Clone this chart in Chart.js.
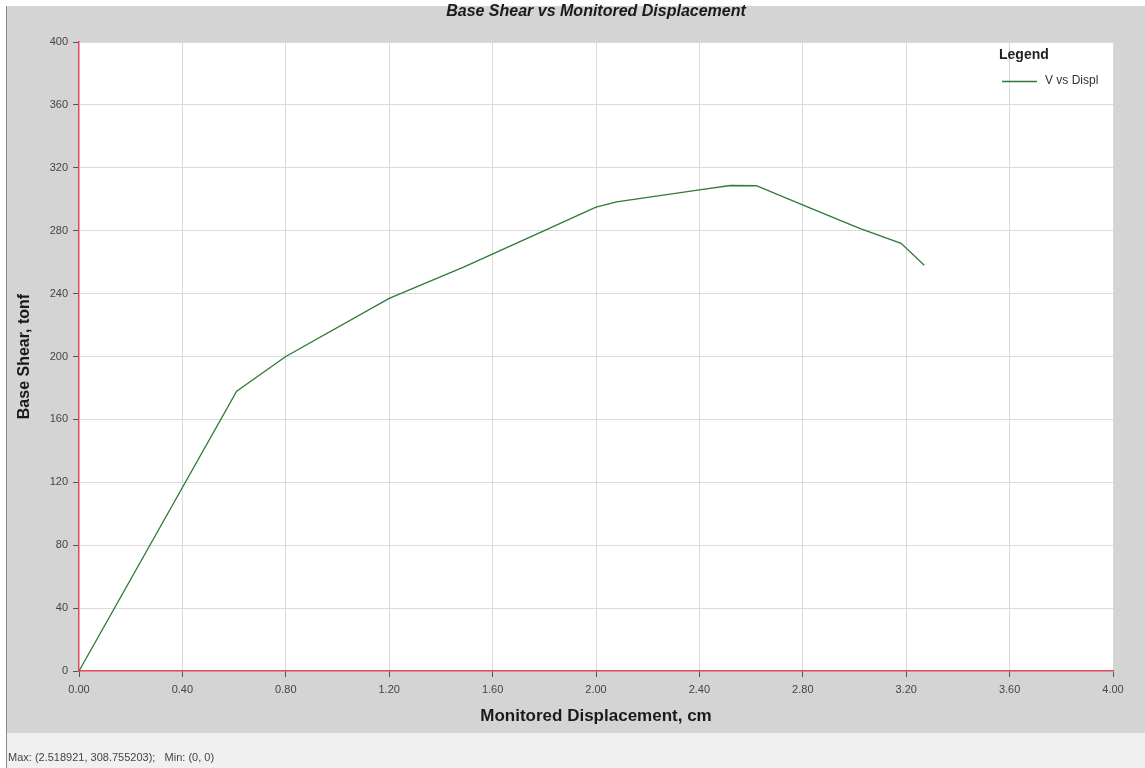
<!DOCTYPE html>
<html><head><meta charset="utf-8">
<script src="https://cdn.jsdelivr.net/npm/chart.js@4/dist/chart.umd.min.js"></script>
<style>html,body{margin:0;padding:0;background:#fff;overflow:hidden}#wrap{width:1145px;height:768px;position:relative}canvas{display:block}</style>
</head><body><div id="wrap"><canvas id="c" width="1145" height="768"></canvas></div>
<script>
// ---- data ----
const displacementCm = [0, 0.61, 0.80, 1.20, 1.49, 1.80, 2.00, 2.08, 2.40, 2.518921, 2.62, 2.82, 3.02, 3.18, 3.27];
const baseShearTonf  = [0, 178, 200, 237, 257, 280, 295, 298.4, 306, 308.755203, 308.6, 295, 281.5, 272, 258];
const xTickValues = [0, 0.4, 0.8, 1.2, 1.6, 2.0, 2.4, 2.8, 3.2, 3.6, 4.0];
const yTickValues = [0, 40, 80, 120, 160, 200, 240, 280, 320, 360, 400];
const seriesLabel = 'V vs Displ';
const chartTitle = 'Base Shear vs Monitored Displacement';
const xTitle = 'Monitored Displacement, cm';
const yTitle = 'Base Shear, tonf';

const FONT = "'Liberation Sans', Arial, sans-serif";
const LINE_COLOR = '#2f7a34';
const GRID = '#dadada';

const points = displacementCm.map((x, i) => ({x, y: baseShearTonf[i]}));
const gridColor = c => (c.tick && c.tick.value === 0) ? 'rgba(0,0,0,0)' : GRID;

const framePlugin = {
  id: 'frame',
  beforeDraw(chart) {
    const {ctx, chartArea: a} = chart;
    ctx.save();
    ctx.fillStyle = '#ffffff';
    ctx.fillRect(0, 0, 1145, 768);
    ctx.fillStyle = '#d4d4d4';
    ctx.fillRect(7, 6, 1138, 727);
    ctx.fillStyle = '#f0f0f0';
    ctx.fillRect(7, 733, 1138, 35);
    ctx.fillStyle = '#8a8a8a';
    ctx.fillRect(6, 6, 1, 762);
    ctx.fillStyle = '#ffffff';
    ctx.fillRect(a.left, a.top, a.right - a.left, a.bottom - a.top);
    ctx.restore();
  },
  afterDraw(chart) {
    const {ctx, chartArea: a} = chart;
    ctx.save();
    // title
    ctx.fillStyle = '#1a1a1a';
    ctx.font = `italic bold 16px ${FONT}`;
    ctx.textAlign = 'center';
    ctx.textBaseline = 'middle';
    ctx.fillText(chartTitle, (a.left + a.right) / 2, 12);
    // legend
    ctx.textAlign = 'left';
    ctx.font = `bold 14px ${FONT}`;
    ctx.fillStyle = '#222';
    ctx.fillText('Legend', 999, 55);
    ctx.strokeStyle = LINE_COLOR;
    ctx.lineWidth = 1.3;
    ctx.beginPath();
    ctx.moveTo(1002, 81.5);
    ctx.lineTo(1037, 81.5);
    ctx.stroke();
    ctx.font = `12px ${FONT}`;
    ctx.fillStyle = '#333';
    ctx.fillText(chart.data.datasets[0].label, 1045, 81);
    // status bar
    const ds = chart.data.datasets[0].data;
    let mx = ds[0], mn = ds[0];
    ds.forEach(p => { if (p.y > mx.y) mx = p; if (p.y < mn.y) mn = p; });
    ctx.font = `11px ${FONT}`;
    ctx.fillStyle = '#444';
    ctx.fillText(`Max: (${mx.x}, ${mx.y});   Min: (${mn.x}, ${mn.y})`, 8, 758);
    ctx.restore();
  }
};

new Chart(document.getElementById('c'), {
  type: 'line',
  data: {
    datasets: [{
      label: seriesLabel,
      data: points,
      borderColor: LINE_COLOR,
      borderWidth: 1.3,
      pointRadius: 0,
      tension: 0,
      fill: false
    }]
  },
  options: {
    responsive: false,
    devicePixelRatio: 1,
    animation: false,
    layout: {padding: {left: 8, top: 42, right: 32, bottom: 35}},
    plugins: {legend: {display: false}, title: {display: false}, tooltip: {enabled: false}},
    scales: {
      x: {
        type: 'linear', min: 0, max: 4,
        afterFit: s => { s.height = 62; },
        afterBuildTicks: s => { s.ticks = xTickValues.map(v => ({value: v})); },
        grid: {color: gridColor, lineWidth: 1, tickLength: 6, tickColor: '#555', drawOnChartArea: true},
        border: {color: '#e0485a', width: 1.5},
        ticks: {color: '#444', font: {family: FONT, size: 11}, padding: 6, maxRotation: 0, callback: v => Number(v).toFixed(2)},
        title: {display: true, text: xTitle, color: '#1a1a1a', font: {family: FONT, size: 17, weight: 'bold'}, padding: {top: 0, bottom: 6}}
      },
      y: {
        type: 'linear', min: 0, max: 400,
        afterFit: s => { s.width = 71; },
        afterBuildTicks: s => { s.ticks = yTickValues.map(v => ({value: v})); },
        grid: {color: gridColor, lineWidth: 1, tickLength: 6, tickColor: '#555'},
        border: {color: '#e0485a', width: 1.5},
        ticks: {color: '#444', font: {family: FONT, size: 11}, padding: 5, callback: v => String(v)},
        title: {display: true, text: yTitle, color: '#1a1a1a', font: {family: FONT, size: 16, weight: 'bold'}, padding: {top: 7, bottom: 0}}
      }
    }
  },
  plugins: [framePlugin]
});
</script>
</body></html>
